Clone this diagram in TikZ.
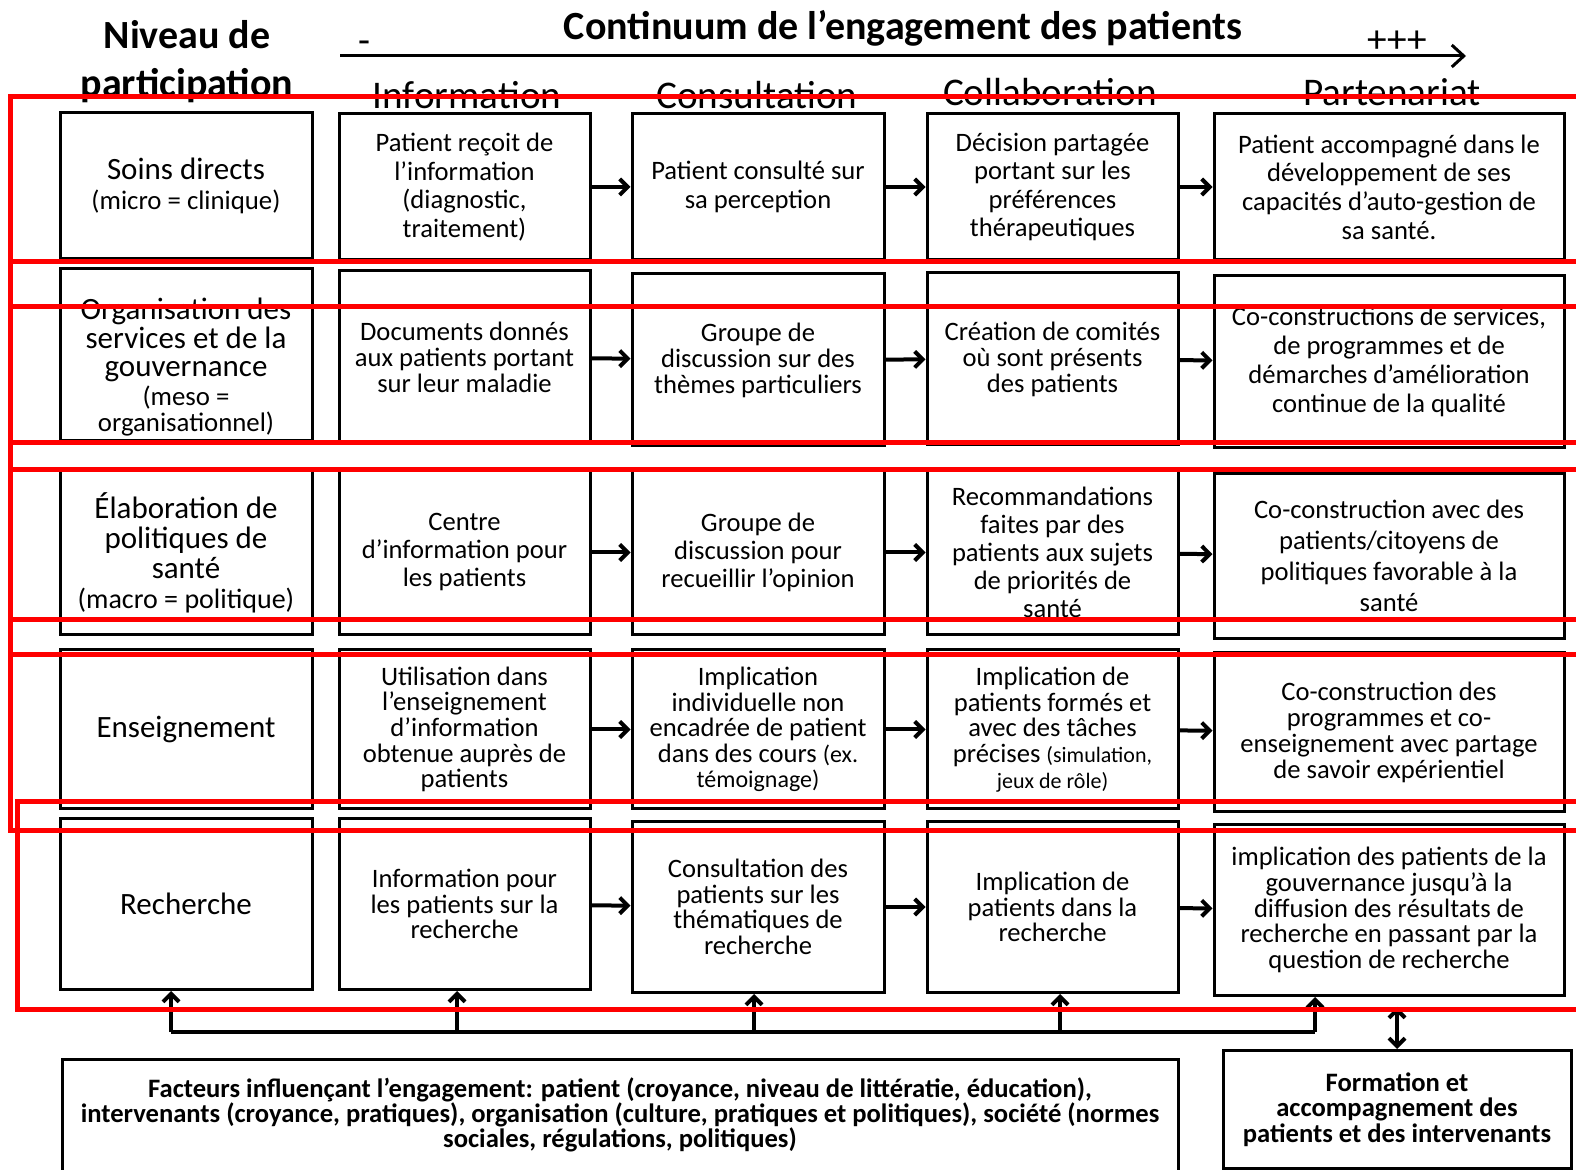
\documentclass[tikz,border=0pt]{standalone}
\usepackage{fontspec}
\setmainfont{Carlito}
\usetikzlibrary{arrows.meta}

\tikzset{
  cell/.style={draw, line width=1.5pt, align=center, inner sep=1pt},
  rowa/.style={cell, minimum height=73pt, font=\fontsize{13.3}{14.3}\selectfont},
  rowb/.style={cell, minimum height=86pt, font=\fontsize{13.3}{13}\selectfont},
  rowc/.style={cell, minimum height=82.5pt, font=\fontsize{13.3}{14}\selectfont},
  rowd/.style={cell, minimum height=79.5pt, font=\fontsize{13.3}{12.8}\selectfont},
  rowe/.style={cell, minimum height=85.5pt, font=\fontsize{13.3}{12.8}\selectfont},
  lab/.style={font=\fontsize{15.5}{15}\selectfont},
  cola/.style={minimum width=126pt},
  colb/.style={minimum width=125.5pt},
  colc/.style={minimum width=126pt},
  cold/.style={minimum width=125.5pt},
  cole/.style={minimum width=175pt},
  head/.style={font=\fontsize{20}{24}\selectfont\bfseries, align=center},
  colhead/.style={font=\fontsize{19.6}{20}\selectfont},
  flow/.style={{Straight Barb[length=4pt,width=8pt]}-, line width=2pt},
  up/.style={-{Straight Barb[length=4pt,width=8pt]}, line width=2pt},
  redmark/.style={draw=red, line width=2.5pt},
}
\newcommand{\paren}[1]{{\fontsize{13.4}{14}\selectfont #1}}
\newcommand{\petit}[1]{{\fontsize{12}{12}\selectfont #1}}

\begin{document}
\begin{tikzpicture}[x=0.5pt, y=-0.5pt]
\useasboundingbox (0,0) rectangle (1576,1170);

\node (niveau) at (187,62) [head] {Niveau de\\participation};
\node (titre) at (903,28) [head] {Continuum de l’engagement des patients};
\coordinate (axeA) at (340,56);
\coordinate (axeB) at (1466,56);
\draw[line width=1.5pt, -{Straight Barb[length=6pt,width=11pt]}] (axeA) -- (axeB);
\node (moins) at (364,47) [colhead] {-};
\node (plus) at (1397,42) [colhead] {+++};

\node (hinfo) at (467,95) [colhead] {Information};
\node (hcons) at (757,95) [colhead] {Consultation};
\node (hcoll) at (1050,92) [colhead] {Collaboration};
\node (hpart) at (1392,92) [colhead] {Partenariat};

% soins directs
\node (soins) at (186,186) [rowa, cola, lab] {Soins directs\\\paren{(micro = clinique)}};
\node (soins1) at (464.5,187) [rowa, colb] {Patient reçoit de\\l’information\\(diagnostic,\\traitement)};
\node (soins2) at (758,187) [rowa, colc] {Patient consulté sur\\sa perception} edge[flow] (soins1);
\node (soins3) at (1052.5,187) [rowa, cold] {Décision partagée\\portant sur les\\préférences\\thérapeutiques} edge[flow] (soins2);
\node (soins4) at (1389,187) [rowa, cole] {Patient accompagné dans le\\développement de ses\\capacités d’auto-gestion de\\sa santé.} edge[flow] (soins3);

% organisation
\node (orga) at (186,355) [rowb, cola] {};
\node (orgaT) at (186,367) [lab, align=center, font=\fontsize{15.5}{14.3}\selectfont] {Organisation des\\services et de la\\gouvernance\\\paren{(meso =}\\[-1.2pt]\paren{organisationnel)}};
\node (orga1) at (464.5,357) [rowb, colb] {Documents donnés\\aux patients portant\\sur leur maladie};
\node (orga2) at (758,360) [rowb, colc] {Groupe de\\discussion sur des\\thèmes particuliers} edge[flow] (orga1);
\node (orga3) at (1052.5,359) [rowb, cold] {Création de comités\\où sont présents\\des patients} edge[flow] (orga2);
\node (orga4) at (1389,362) [rowb, cole, font=\fontsize{13.3}{14.5}\selectfont] {Co-constructions de services,\\de programmes et de\\démarches d’amélioration\\continue de la qualité} edge[flow] (orga3);

% politiques
\node (poli) at (186,552.5) [rowc, cola, lab] {Élaboration de\\politiques de\\santé\\{\fontsize{14}{14}\selectfont (macro = politique)}};
\node (poli1) at (464.5,552.5) [rowc, colb] {Centre\\d’information pour\\les patients};
\node (poli2) at (758,552.5) [rowc, colc] {Groupe de\\discussion pour\\recueillir l’opinion} edge[flow] (poli1);
\node (poli3) at (1052.5,552.5) [rowc, cold] {Recommandations\\faites par des\\patients aux sujets\\de priorités de\\santé} edge[flow] (poli2);
\node (poli4) at (1389,556) [rowc, cole, font=\fontsize{13.3}{15.5}\selectfont] {Co-construction avec des\\patients/citoyens de\\politiques favorable à la\\santé} edge[flow] (poli3);

% enseignement
\node (ens) at (186,729.5) [rowd, cola, lab] {Enseignement};
\node (ens1) at (464.5,729.5) [rowd, colb] {Utilisation dans\\l’enseignement\\d’information\\obtenue auprès de\\patients};
\node (ens2) at (758,729.5) [rowd, colc] {Implication\\individuelle non\\encadrée de patient\\dans des cours \petit{(ex.}\\\petit{témoignage)}} edge[flow] (ens1);
\node (ens3) at (1052.5,729.5) [rowd, cold] {Implication de\\patients formés et\\avec des tâches\\précises {\fontsize{11}{12}\selectfont (simulation,}\\{\fontsize{11}{12}\selectfont jeux de rôle)}} edge[flow] (ens2);
\node (ens4) at (1389,732) [rowd, cole, font=\fontsize{13.3}{13}\selectfont] {Co-construction des\\programmes et co-\\enseignement avec partage\\de savoir expérientiel} edge[flow] (ens3);

% recherche
\node (rech) at (186,904) [rowe, cola, lab] {Recherche};
\node (rech1) at (464.5,904) [rowe, colb] {Information pour\\les patients sur la\\recherche};
\node (rech2) at (758,907) [rowe, colc] {Consultation des\\patients sur les\\thématiques de\\recherche} edge[flow] (rech1);
\node (rech3) at (1052.5,907) [rowe, cold] {Implication de\\patients dans la\\recherche} edge[flow] (rech2);
\node (rech4) at (1389,910) [rowe, cole] {implication des patients de la\\gouvernance jusqu’à la\\diffusion des résultats de\\recherche en passant par la\\question de recherche} edge[flow] (rech3);

% facteurs et formation
\node (fact) at (620,1115) [cell, minimum width=558pt, minimum height=56pt, font=\fontsize{13.3}{12.5}\selectfont\bfseries] {Facteurs influençant l’engagement: patient (croyance, niveau de littératie, éducation),\\intervenants (croyance, pratiques), organisation (culture, pratiques et politiques), société (normes\\sociales, régulations, politiques)};
\node (form) at (1397,1109.5) [cell, minimum width=174pt, minimum height=59pt, font=\fontsize{13.3}{12.8}\selectfont\bfseries] {Formation et\\accompagnement des\\patients et des intervenants};

\coordinate (j0) at (171,1032);
\coordinate (j1) at (457,1032);
\coordinate (j2) at (754,1032);
\coordinate (j3) at (1060,1032);
\coordinate (j4) at (1315,1032);
\draw[line width=2pt] (j0) -- (j4);
\draw[up] (j0) -- (j0 |- rech.south);
\draw[up] (j1) -- (j1 |- rech1.south);
\draw[up] (j2) -- (j2 |- rech2.south);
\draw[up] (j3) -- (j3 |- rech3.south);
\draw[up] (j4) -- (j4 |- rech4.south);
\coordinate (k) at (1397,1007);
\draw[line width=2pt, {Straight Barb[length=4pt,width=8pt]}-{Straight Barb[length=4pt,width=8pt]}] (k) -- (form);

% cadres rouges
\draw[redmark] (10,97) rectangle (1590,620);
\draw[redmark] (10,262) rectangle (1590,307);
\draw[redmark] (10,443) rectangle (1590,470);
\draw[redmark] (10,620) rectangle (1590,831);
\draw[redmark] (10,655) -- (1590,655);
\draw[redmark] (17,802) rectangle (1590,1010);
\end{tikzpicture}
\end{document}
